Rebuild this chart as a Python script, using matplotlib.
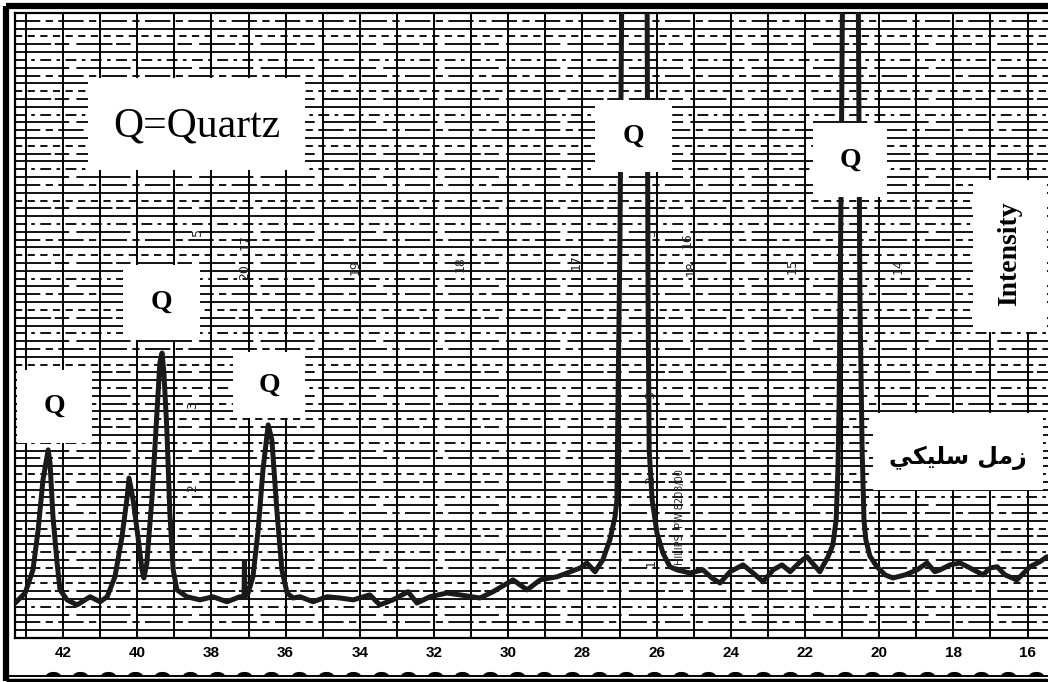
import numpy as np
import matplotlib
matplotlib.use("Agg")
import matplotlib.pyplot as plt
from matplotlib.patches import Rectangle
from matplotlib.path import Path

# Diffractometer trace: 2-theta (degrees) and pen height (chart divisions, full scale 100)
two_theta = [43.29, 43.02, 42.81, 42.67, 42.54, 42.40, 42.35, 42.27, 42.16, 42.08,
             41.89, 41.62, 41.27, 41.00, 40.81, 40.60, 40.41, 40.27, 40.22, 40.11,
             39.98, 39.87, 39.82, 39.74, 39.60, 39.47, 39.39, 39.33, 39.28, 39.20,
             39.12, 39.03, 38.93, 38.66, 38.31, 37.96, 37.58, 37.23, 37.12, 37.11,
             37.09, 37.01, 36.88, 36.74, 36.61, 36.47, 36.37, 36.23, 36.10, 35.96,
             35.80, 35.61, 35.26, 34.88, 34.53, 34.18, 33.73, 33.46, 33.11, 32.70,
             32.46, 32.11, 31.65, 31.30, 30.76, 30.41, 29.87, 29.49, 29.14, 28.68,
             28.33, 28.06, 27.88, 27.66, 27.45, 27.26, 27.12, 27.07, 27.04, 26.99,
             26.93, 26.26, 26.23, 26.20, 26.12, 25.99, 25.83, 25.64, 25.45, 25.10,
             24.75, 24.51, 24.29, 24.02, 23.67, 23.40, 23.13, 22.86, 22.62, 22.40,
             22.13, 21.95, 21.60, 21.38, 21.25, 21.16, 21.11, 21.08, 21.03, 20.98,
             20.57, 20.52, 20.46, 20.41, 20.36, 20.25, 20.06, 19.84, 19.63, 19.30,
             18.98, 18.71, 18.50, 18.36, 18.09, 17.82, 17.55, 17.20, 17.01, 16.82,
             16.61, 16.29, 16.07, 15.94, 15.67, 15.48]
intensity = [5.6, 7.2, 10.9, 17.3, 25.3, 30.1, 28.0, 19.4, 12.0, 7.7,
             6.1, 5.3, 6.6, 5.8, 6.6, 9.8, 16.2, 22.6, 25.6, 22.1,
             16.2, 10.9, 9.6, 12.0, 22.6, 36.0, 44.0, 45.6, 42.4, 33.3,
             20.0, 10.9, 7.7, 6.6, 6.1, 6.6, 5.8, 6.6, 6.6, 12.2,
             6.6, 7.2, 9.8, 17.3, 26.9, 34.1, 31.7, 20.0, 10.9, 7.2,
             6.4, 6.6, 5.8, 6.6, 6.4, 6.1, 6.9, 5.3, 6.1, 7.4,
             5.6, 6.6, 7.2, 6.9, 6.4, 7.4, 9.3, 7.7, 9.3, 9.8,
             10.6, 11.2, 12.0, 10.6, 12.5, 15.7, 19.4, 22.1, 38.1, 62.1,
             110.0, 110.0, 54.1, 30.1, 22.1, 16.8, 13.6, 11.4, 10.9, 10.4,
             10.9, 9.6, 8.8, 10.6, 11.7, 10.4, 9.0, 10.9, 11.7, 10.6,
             12.2, 13.0, 10.6, 13.0, 14.9, 18.9, 27.4, 38.1, 70.1, 110.0,
             110.0, 54.1, 30.1, 18.9, 15.7, 13.1, 11.4, 10.1, 9.6, 10.1,
             10.9, 12.0, 10.6, 10.9, 11.7, 12.0, 11.2, 10.1, 11.2, 11.4,
             10.1, 9.3, 10.6, 11.4, 12.2, 13.0]

tick_degrees = [42, 40, 38, 36, 34, 32, 30, 28, 26, 24, 22, 20, 18, 16]
tick_labels = [str(d) for d in tick_degrees]

legend_text = "Q=Quartz"
axis_title = "Intensity"
# "زمل سليكي" written with Arabic presentation forms in visual (left-to-right) order
sample_name = "\uFEF2\uFEDC\uFEF4\uFEE0\uFEB3 \uFEDE\uFEE3\uFEAF"

# label boxes pasted on the chart: (left, top, width, height) in pixels, text
peak_boxes = [(17, 370, 75, 73, "Q"), (123, 265, 77, 75, "Q"), (233, 352, 72, 66, "Q"),
              (595, 100, 77, 72, "Q"), (813, 123, 74, 74, "Q")]

# small numbers printed on the recorder paper: (x, y, text)
paper_marks = [(197, 232, "5"), (245, 242, "17"), (245, 272, "20"), (355, 267, "19"),
               (460, 264, "18"), (576, 262, "17"), (651, 232, "5"), (687, 240, "16"),
               (691, 268, "18"), (792, 266, "15"), (898, 266, "14"),
               (193, 405, "3"), (193, 488, "2"), (651, 395, "3"), (651, 480, "2"),
               (651, 563, "1")]

W, H = 1048, 682
fig = plt.figure(figsize=(W / 100, H / 100), dpi=100)
fig.patch.set_facecolor("white")

# main chart area (grid + trace)
gx0, gx1, gy0, gy1 = 15, 1048, 13, 638
ax = fig.add_axes([gx0 / W, (H - gy1) / H, (gx1 - gx0) / W, (gy1 - gy0) / H])
ax.set_xlim(43.294, 15.45)
ax.set_ylim(0, 100)

# recorder paper grid
ax.vlines(np.arange(16, 44), 0, 100, colors="black", lw=1.4, zorder=1)
hstyles = ["solid", (0, (14, 3, 4, 3)), (0, (30, 4)), (0, (6, 3, 2, 3)),
           "solid", (0, (20, 2, 8, 4)), (0, (4, 3))]
for i, yv in enumerate(np.arange(1.25, 100, 1.25)):
    ax.axhline(yv, color="black", lw=1.3, ls=hstyles[i % len(hstyles)], zorder=1)

ax.plot(two_theta, intensity, color="#1a1a1a", lw=3.6, solid_joinstyle="round",
        solid_capstyle="round", zorder=3)

ax.spines["right"].set_visible(False)
for side in ["left", "top", "bottom"]:
    ax.spines[side].set_linewidth(1.6)
ax.set_yticks([])
ax.set_xticks(tick_degrees)
ax.set_xticklabels(tick_labels, fontfamily="Liberation Sans", fontweight="bold", fontsize=11)
ax.tick_params(axis="x", length=0, pad=6)

# overlay in pixel coordinates for the pasted labels and frame
ov = fig.add_axes([0, 0, 1, 1], zorder=5)
ov.set_xlim(0, W)
ov.set_ylim(H, 0)
ov.axis("off")
ov.patch.set_alpha(0)

for x, y, w, h, t in peak_boxes:
    ov.add_patch(Rectangle((x, y), w, h, facecolor="white", edgecolor="none"))
    ov.text(x + w / 2, y + h / 2, t, ha="center", va="center", fontsize=20,
            fontfamily="Liberation Serif", fontweight="bold")

ov.add_patch(Rectangle((88, 78), 217, 92, facecolor="white", edgecolor="none"))
ov.text(197, 126, legend_text, ha="center", va="center", fontsize=30,
        fontfamily="Liberation Serif")

ov.add_patch(Rectangle((973, 180), 74, 152, facecolor="white", edgecolor="none"))
ov.text(1010, 254, axis_title, ha="center", va="center", rotation=90, fontsize=20,
        fontfamily="Liberation Serif", fontweight="bold")

ov.add_patch(Rectangle((873, 413), 170, 77, facecolor="white", edgecolor="none"))
ov.text(958, 458, sample_name, ha="center", va="center", fontsize=17,
        fontfamily="DejaVu Sans", fontweight="bold")

for x, y, t in paper_marks:
    ov.text(x, y, t, ha="center", va="center", rotation=90, fontsize=9,
            fontfamily="DejaVu Sans", color="#222222")
ov.text(680, 520, "PHILIPS  PW 8203/00", ha="center", va="center", rotation=90,
        fontsize=7, fontfamily="DejaVu Sans", color="#222222")

# heavy outer frame (top, left, bottom)
ov.plot([6, W], [6, 6], color="black", lw=4.5, solid_capstyle="butt")
ov.plot([6, 6], [6, 681], color="black", lw=4.5, solid_capstyle="butt")
ov.plot([6, W], [680, 680], color="black", lw=2.5, solid_capstyle="butt")

# timing marks along the lower edge
t = np.linspace(0, np.pi, 20)
hump = Path(np.column_stack([np.cos(t), 0.6 * np.sin(t)]).tolist() + [[1, 0]])
ov.plot([10, W], [676, 676], color="black", lw=1.4)
mx = np.arange(53, W, 27.3)
ov.plot(mx, np.full_like(mx, 675.5), ls="none", marker=hump, ms=11,
        color="black", markeredgewidth=0)

fig.savefig("out.png", dpi=100, facecolor="white")
